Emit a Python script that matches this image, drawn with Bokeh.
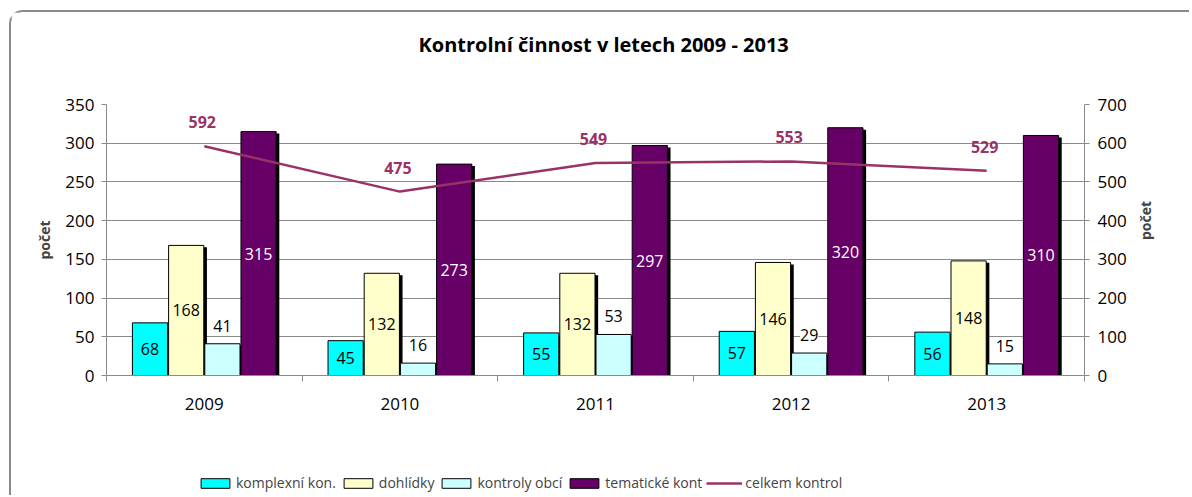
import math
from bokeh.plotting import figure
from bokeh.layouts import column
from bokeh.models import (ColumnDataSource, Range1d, LinearAxis, FixedTicker, LabelSet,
                          Legend, LegendItem, Title)
from bokeh.transform import dodge
from bokeh.core.properties import value
from bokeh.embed import file_html
from bokeh.resources import INLINE

years = ["2009", "2010", "2011", "2012", "2013"]
komplexni = [68, 45, 55, 57, 56]
dohlidky = [168, 132, 132, 146, 148]
kontroly_obci = [41, 16, 53, 29, 15]
tematicke = [315, 273, 297, 320, 310]
celkem = [592, 475, 549, 553, 529]

series_names = ["komplexní kon.", "dohlídky", "kontroly obcí", "tematické kont"]
series_values = [komplexni, dohlidky, kontroly_obci, tematicke]
series_colors = ["#00FFFF", "#FFFFCC", "#CCFFFF", "#660066"]
line_name = "celkem kontrol"
line_color = "#993366"
offsets = [-0.2775, -0.0925, 0.0925, 0.2775]
BAR_W = 0.18
FONT = "Open Sans"
GREY = "#8a8a8a"

xc = [i + 0.5 for i in range(len(years))]

p = figure(frame_width=976, frame_height=269, output_backend="svg", toolbar_location=None,
           x_range=Range1d(0, 5), y_range=Range1d(0, 350),
           min_border_left=95, min_border_right=107, min_border_top=92, min_border_bottom=50)
p.extra_y_ranges = {"right": Range1d(0, 700)}
p.outline_line_color = None
p.background_fill_color = "white"
p.border_fill_color = "white"
p.styles = {"border-left": "2px solid #8a8a8a", "border-top": "2px solid #8a8a8a",
            "border-top-left-radius": "14px", "margin-left": "9px", "margin-top": "10px"}

p.title = Title(text="Kontrolní činnost v letech 2009 - 2013", align="left",
                text_font=FONT, text_font_size="20px", text_font_style="bold",
                text_color="black", standoff=0, offset=312)
# blank spacer between title and plot area
p.add_layout(Title(text=" ", text_font_size="10px", standoff=34), "above")

# grid
p.xgrid.grid_line_color = None
p.ygrid.grid_line_color = GREY
p.ygrid.grid_line_width = 1
p.yaxis.ticker = FixedTicker(ticks=list(range(0, 351, 50)))
p.ygrid.ticker = FixedTicker(ticks=list(range(0, 351, 50)))

# x axis
xa = p.xaxis[0]
xa.ticker = FixedTicker(ticks=xc, minor_ticks=[0, 1, 2, 3, 4, 5])
xa.major_label_overrides = {x: y for x, y in zip(xc, years)}
xa.major_tick_out = 0
xa.major_tick_in = 0
xa.minor_tick_out = 6
xa.minor_tick_in = 0
xa.minor_tick_line_color = GREY
xa.axis_line_color = GREY
xa.major_label_standoff = 16
xa.major_label_text_font = FONT
xa.major_label_text_font_size = "17px"
xa.major_label_text_color = "black"

# left y axis
ya = p.yaxis[0]
ya.axis_label = "počet"
ya.axis_label_text_font = FONT
ya.axis_label_text_font_size = "14px"
ya.axis_label_text_font_style = "bold"
ya.axis_label_standoff = 8
ya.major_tick_out = 5
ya.major_tick_in = 0
ya.minor_tick_line_color = None
ya.axis_line_color = GREY
ya.major_tick_line_color = GREY
ya.major_label_standoff = 7
ya.major_label_text_font = FONT
ya.major_label_text_font_size = "17px"
ya.major_label_text_color = "black"

# right y axis
ra = LinearAxis(y_range_name="right", ticker=FixedTicker(ticks=list(range(0, 701, 100))))
ra.axis_label = "počet"
ra.axis_label_text_font = FONT
ra.axis_label_text_font_size = "14px"
ra.axis_label_text_font_style = "bold"
ra.axis_label_standoff = 16
try:
    ra.axis_label_orientation = math.pi / 2
except Exception:
    pass
ra.major_tick_out = 5
ra.major_tick_in = 0
ra.minor_tick_line_color = None
ra.axis_line_color = GREY
ra.major_tick_line_color = GREY
ra.major_label_standoff = 8
ra.major_label_text_font = FONT
ra.major_label_text_font_size = "17px"
ra.major_label_text_color = "black"
p.add_layout(ra, "right")

for name, vals, col, off in zip(series_names, series_values, series_colors, offsets):
    src = ColumnDataSource(dict(xc=xc, v=vals))
    # shadow
    p.vbar(x=dodge("xc", off + 0.016), top=dodge("v", -2.5), width=BAR_W, source=src,
           fill_color="black", line_color=None)
    p.vbar(x=dodge("xc", off), top="v", width=BAR_W, source=src,
           fill_color=col, line_color="black", line_width=1)

for name, vals, col, off in zip(series_names, series_values, series_colors, offsets):
    src = ColumnDataSource(dict(xc=xc, v=vals, mid=[v / 2 for v in vals],
                                t=[str(v) for v in vals]))
    if name == "kontroly obcí":
        ls = LabelSet(x=dodge("xc", off), y="v", text="t", source=src, y_offset=12,
                      text_align="center", text_baseline="bottom",
                      text_font=value(FONT), text_font_size="16px", text_color="black",
                      background_fill_color="white")
    else:
        ls = LabelSet(x=dodge("xc", off), y="mid", text="t", source=src,
                      text_align="center", text_baseline="middle",
                      text_font=value(FONT), text_font_size="16px",
                      text_color="white" if col == "#660066" else "black")
    p.add_layout(ls)

lsrc = ColumnDataSource(dict(xc=xc, v=celkem, t=[str(v) for v in celkem]))
p.line(x="xc", y="v", source=lsrc, y_range_name="right", line_color=line_color, line_width=2.5)
p.add_layout(LabelSet(x="xc", y="v", text="t", source=lsrc, y_range_name="right",
                      x_offset=-2, y_offset=18, text_align="center", text_baseline="bottom",
                      text_font=value(FONT), text_font_size="16px", text_font_style="bold",
                      text_color=line_color))

# legend strip below the chart; legend proxies sit outside the visible range
lg = figure(width=1178, height=72, output_backend="svg", toolbar_location=None,
            x_range=Range1d(0, 1), y_range=Range1d(0, 1), x_axis_type=None, y_axis_type=None,
            min_border=0)
lg.outline_line_color = None
lg.background_fill_color = "white"
lg.border_fill_color = "white"
lg.styles = {"border-left": "2px solid #8a8a8a", "margin-left": "9px"}

proxy = ColumnDataSource(dict(x=[-5.0, -6.0], y=[-5.0, -6.0]))
legend_items = []
for name, col in zip(series_names, series_colors):
    r = lg.vbar(x="x", top="y", width=0.1, source=proxy,
                fill_color=col, line_color="black", line_width=1)
    legend_items.append(LegendItem(label=name, renderers=[r]))
lr = lg.line(x="x", y="y", source=proxy, line_color=line_color, line_width=2.5)
legend_items.append(LegendItem(label=line_name, renderers=[lr]))

legend = Legend(items=legend_items, orientation="horizontal", location=(91, 3),
                padding=0, margin=0, spacing=4, label_standoff=3,
                glyph_width=36, glyph_height=12, label_height=14,
                label_text_font=FONT, label_text_font_size="14px",
                border_line_color=None, background_fill_alpha=0)
lg.add_layout(legend, "center")

layout = column(p, lg, spacing=0)
open("out.html", "w").write(file_html(layout, INLINE))
